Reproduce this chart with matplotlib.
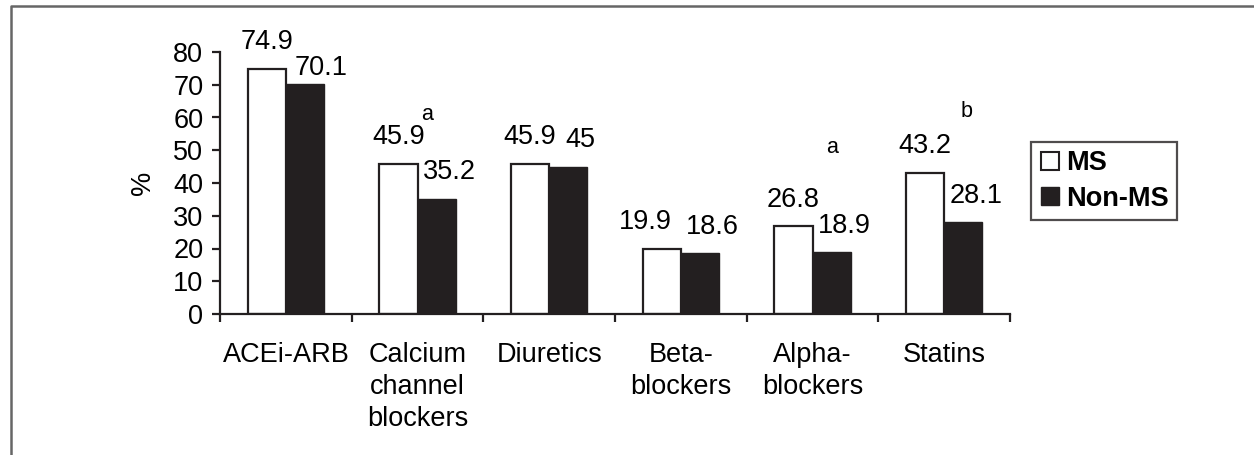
import numpy as np
import matplotlib
matplotlib.use("Agg")
import matplotlib.pyplot as plt
from matplotlib.lines import Line2D

plt.rcParams['font.family'] = ['Liberation Sans', 'DejaVu Sans']

# data
categories = ["ACEi-ARB", "Calcium\nchannel\nblockers", "Diuretics",
              "Beta-\nblockers", "Alpha-\nblockers", "Statins"]
ms_values = [74.9, 45.9, 45.9, 19.9, 26.8, 43.2]
non_ms_values = [70.1, 35.2, 45, 18.6, 18.9, 28.1]
ms_labels = ["74.9", "45.9", "45.9", "19.9", "26.8", "43.2"]
non_ms_labels = ["70.1", "35.2", "45", "18.6", "18.9", "28.1"]
sig_letters = ["", "a", "", "", "a", "b"]

dark = "#231f20"
fs = 19.5
fig = plt.figure(figsize=(12.54, 4.55), dpi=100)
ax = fig.add_axes([220/1254, 141/455, 790/1254, 262/455])

x = np.arange(len(categories)) + 0.5
w = 0.29
ax.bar(x - w/2, ms_values, w, color="white", edgecolor=dark, linewidth=1.6, label="MS")
ax.bar(x + w/2, non_ms_values, w, color=dark, edgecolor=dark, linewidth=1.0, label="Non-MS")

# value labels (a couple nudged by hand, like in the original)
ms_nudge = {3: (-12, 0)}
non_ms_nudge = {0: (3, -7)}
for i, (xi, v, t) in enumerate(zip(x, ms_values, ms_labels)):
    dx, dy = ms_nudge.get(i, (0, 0))
    ax.annotate(t, (xi - w/2, v), xytext=(0 + dx, 19 + dy), textcoords="offset points",
                ha="center", va="center", fontsize=fs, color="black")
for i, (xi, v, t) in enumerate(zip(x, non_ms_values, non_ms_labels)):
    dx, dy = non_ms_nudge.get(i, (0, 0))
    ax.annotate(t, (xi + w/2, v), xytext=(9 + dx, 19 + dy), textcoords="offset points",
                ha="center", va="center", fontsize=fs, color="black")

# significance letters
sig_pos = {1: (0.07, 61), 4: (0.15, 50.7), 5: (0.17, 61.7)}
for i, letter in enumerate(sig_letters):
    if letter:
        dx, yy = sig_pos[i]
        ax.text(x[i] + dx, yy, letter, ha="center", va="center", fontsize=15.5)

ax.set_xlim(0, len(categories))
ax.set_ylim(0, 80)
ax.set_yticks(np.arange(0, 81, 10))
ax.set_xticks(np.arange(0, len(categories) + 1))
ax.set_xticklabels([])
ax.set_xticks(x, minor=True)
ax.set_xticklabels(categories, minor=True, fontsize=fs, linespacing=1.3, va="top")
ax.tick_params(axis="x", which="minor", length=0, pad=20)
ax.tick_params(axis="x", which="major", direction="out", length=6, width=1.6, color=dark)
ax.tick_params(axis="y", direction="out", length=6, width=1.6, color=dark, labelsize=fs, pad=6)
for s in ["top", "right"]:
    ax.spines[s].set_visible(False)
for s in ["left", "bottom"]:
    ax.spines[s].set_linewidth(1.6)
    ax.spines[s].set_color(dark)
ax.set_ylabel("%", fontsize=fs, labelpad=12)

# legend
handles = [
    Line2D([], [], linestyle="none", marker="s", markersize=13.5, markerfacecolor="white",
           markeredgecolor=dark, markeredgewidth=1.5),
    Line2D([], [], linestyle="none", marker="s", markersize=13.5, markerfacecolor=dark,
           markeredgecolor=dark),
]
leg = fig.legend(handles, ["MS", "Non-MS"], loc="upper left",
                 bbox_to_anchor=(1031/1254, 1 - 142/455), bbox_transform=fig.transFigure,
                 frameon=True, fancybox=False, prop={"weight": "bold", "size": fs},
                 handlelength=0.8, handletextpad=0.2, borderpad=0.3, labelspacing=0.35,
                 borderaxespad=0)
leg.get_frame().set_edgecolor(dark)
leg.get_frame().set_linewidth(1.6)

# outer frame (left and top only visible)
fx = 11/1254
fy = 1 - 6/455
fig.add_artist(Line2D([fx, fx, 1], [0, fy, fy], transform=fig.transFigure,
                      color="#666666", linewidth=1.8))

fig.savefig("out.png", dpi=100)
